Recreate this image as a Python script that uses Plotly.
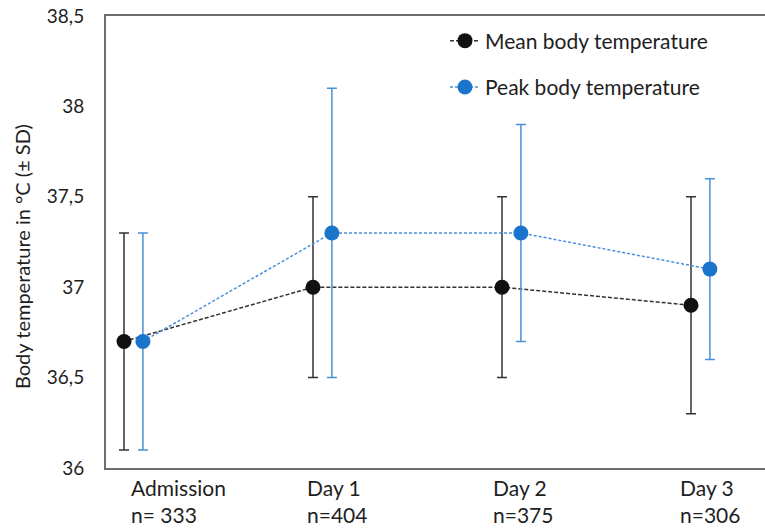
import plotly.graph_objects as go

# Time points and sample sizes
categories = ["Admission", "Day 1", "Day 2", "Day 3"]
n_labels = ["n= 333", "n=404", "n=375", "n=306"]

# Body temperature (°C), mean ± SD
mean_temp = [36.7, 37.0, 37.0, 36.9]
mean_sd = [0.6, 0.5, 0.5, 0.6]

peak_temp = [36.7, 37.3, 37.3, 37.1]
peak_sd = [0.6, 0.8, 0.6, 0.5]

# Y axis ticks
y_ticks = [36, 36.5, 37, 37.5, 38, 38.5]
y_tick_text = ["36", "36,5", "37", "37,5", "38", "38,5"]

FONT = "Lato"
TEXT = "#1e1e1e"
BLACK = "#111111"
BLUE = "#1B74CC"
BLUE_LIGHT = "#4A90D9"

x_idx = list(range(len(categories)))
peak_offset = 0.1
x_mean = [i for i in x_idx]
x_peak = [i + peak_offset for i in x_idx]

fig = go.Figure()

fig.add_trace(go.Scatter(
    x=x_mean, y=mean_temp,
    mode="lines+markers",
    name="Mean body temperature",
    legendgroup="mean",
    line=dict(color="#333333", width=1.5, dash="4px,2px"),
    marker=dict(color=BLACK, size=15),
    error_y=dict(type="data", array=mean_sd, visible=True,
                 color="#333333", thickness=1.5, width=5),
))

fig.add_trace(go.Scatter(
    x=x_peak, y=peak_temp,
    mode="lines+markers",
    name="Peak body temperature",
    legendgroup="peak",
    line=dict(color=BLUE_LIGHT, width=1.5, dash="3px,2px"),
    marker=dict(color=BLUE, size=15),
    error_y=dict(type="data", array=peak_sd, visible=True,
                 color=BLUE_LIGHT, thickness=1.5, width=5),
))

# Plot-area geometry (px)
W, H = 765, 528
ML, MR, MT, MB = 106, 0, 16, 60
plot_w = W - ML - MR
plot_h = H - MT - MB

# Category labels below the axis, left aligned
label_px = [129, 305, 491, 678]
annotations = []
for px, cat, n in zip(label_px, categories, n_labels):
    annotations.append(dict(
        x=(px - ML) / plot_w, xref="paper", xanchor="left",
        y=-0.012, yref="paper", yanchor="top",
        text=f"{cat}<br>{n}", showarrow=False, align="left",
        font=dict(family=FONT, size=21, color=TEXT),
    ))

# Y axis title
annotations.append(dict(
    x=(22 - ML) / plot_w, xref="paper", xanchor="center",
    y=(H - MB - 257) / plot_h, yref="paper", yanchor="middle",
    text="Body temperature in °C (± SD)", textangle=-90, showarrow=False,
    font=dict(family=FONT, size=20, color=TEXT),
))

fig.update_layout(
    width=W, height=H,
    margin=dict(l=ML, r=MR, t=MT, b=MB),
    paper_bgcolor="white", plot_bgcolor="white",
    separators=",.",
    font=dict(family=FONT, color=TEXT),
    showlegend=True,
    legend=dict(
        x=(445 - ML) / plot_w, xanchor="left",
        y=0.99, yanchor="top",
        bgcolor="rgba(0,0,0,0)",
        font=dict(family=FONT, size=21, color=TEXT),
        tracegroupgap=16,
        traceorder="grouped",
    ),
    annotations=annotations,
    xaxis=dict(
        range=[-18 / 189, (W - 124) / 189],
        showticklabels=False, ticks="", showgrid=False, zeroline=False,
        showline=True, linecolor="#6e6e6e", linewidth=2, mirror=True,
    ),
    yaxis=dict(
        range=[36, 38.5],
        tickvals=y_ticks, ticktext=y_tick_text,
        tickfont=dict(family=FONT, size=19, color=TEXT),
        ticks="", ticklen=0, ticklabelstandoff=16,
        showgrid=False, zeroline=False,
        showline=True, linecolor="#6e6e6e", linewidth=2,
    ),
)

fig.write_html("out.html")
